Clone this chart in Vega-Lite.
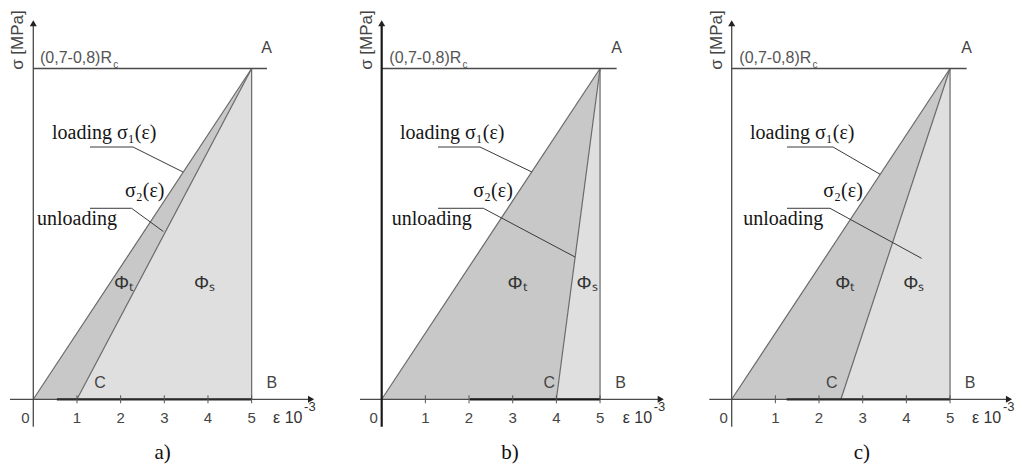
{
  "$schema": "https://vega.github.io/schema/vega-lite/v6.json",
  "background": "white",
  "padding": 0,
  "spacing": 0,
  "bounds": "flush",
  "config": {"view": {"stroke": null}, "text": {"font": "Liberation Sans"}},
  "hconcat": [
    {
      "width": 340, "height": 472,
      "encoding": {
        "x": {"field": "e", "type": "quantitative", "scale": {"domain": [-0.7625, 7.0231], "nice": false, "zero": false}, "axis": null},
        "y": {"field": "s", "type": "quantitative", "scale": {"domain": [-0.2198, 1.2071], "nice": false, "zero": false}, "axis": null}
      },
      "layer": [
        {"data": {"values": [{"e": 0, "s": 0, "s2": 0}, {"e": 1, "s": 0.2, "s2": 0}, {"e": 5, "s": 1, "s2": 1}]}, "mark": {"type": "area", "color": "#c8c8c8"}, "encoding": {"y2": {"field": "s2"}}},
        {"data": {"values": [{"e": 1, "s": 0, "s2": 0}, {"e": 5, "s": 1, "s2": 0}]}, "mark": {"type": "area", "color": "#dfdfdf"}, "encoding": {"y2": {"field": "s2"}}},
        {"data": {"values": [{"e": 0, "s": 0, "e2": 5, "s2": 1}, {"e": 1, "s": 0, "e2": 5, "s2": 1}, {"e": 5, "s": 0, "e2": 5, "s2": 1}]}, "mark": {"type": "rule", "color": "#6a6a6a", "strokeWidth": 1.2}, "encoding": {"x2": {"field": "e2"}, "y2": {"field": "s2"}}},
        {"data": {"values": [{"e": 0, "s": 1, "e2": 5.35, "s2": 1}, {"e": -0.534, "s": 0, "e2": 6.35, "s2": 0}, {"e": 0, "s": -0.083, "e2": 0, "s2": 1.13}]}, "mark": {"type": "rule", "color": "#4a4a4a", "strokeWidth": 1.3}, "encoding": {"x2": {"field": "e2"}, "y2": {"field": "s2"}}},
        {"data": {"values": [{"e": 0.54, "s": 0, "e2": 5, "s2": 0}]}, "mark": {"type": "rule", "color": "#2a2a2a", "strokeWidth": 2.2}, "encoding": {"x2": {"field": "e2"}, "y2": {"field": "s2"}}},
        {"data": {"values": [{"e": 1, "s": -0.012, "e2": 1, "s2": 0.012}, {"e": 2, "s": -0.012, "e2": 2, "s2": 0.012}, {"e": 3, "s": -0.012, "e2": 3, "s2": 0.012}, {"e": 4, "s": -0.012, "e2": 4, "s2": 0.012}, {"e": 5, "s": -0.012, "e2": 5, "s2": 0.012}]}, "mark": {"type": "rule", "color": "#555555", "strokeWidth": 1}, "encoding": {"x2": {"field": "e2"}, "y2": {"field": "s2"}}},
        {"data": {"values": [{"e": 1.298, "s": 0.7627, "e2": 2.283, "s2": 0.7627}, {"e": 2.283, "s": 0.7627, "e2": 3.43, "s2": 0.687}, {"e": 1.298, "s": 0.5774, "e2": 2.25, "s2": 0.5774}, {"e": 2.25, "s": 0.5774, "e2": 2.98, "s2": 0.507}]}, "mark": {"type": "rule", "color": "#3a3a3a", "strokeWidth": 1}, "encoding": {"x2": {"field": "e2"}, "y2": {"field": "s2"}}},
        {"data": {"values": [{"e": 0, "s": 1.137}]}, "mark": {"type": "point", "shape": "triangle-up", "filled": true, "color": "#222222", "size": 50, "opacity": 1}},
        {"data": {"values": [{"e": 6.36, "s": 0}]}, "mark": {"type": "point", "shape": "triangle-right", "filled": true, "color": "#222222", "size": 50, "opacity": 1}},
        {"data": {"values": [{"e": 0.428, "s": 0.787, "t": "loading σ₁(ε)"}, {"e": 2.1, "s": 0.6116, "t": "σ₂(ε)"}, {"e": 0.085, "s": 0.527, "t": "unloading"}]}, "mark": {"type": "text", "font": "Liberation Serif", "fontSize": 20, "color": "#151515", "align": "left", "baseline": "alphabetic"}, "encoding": {"text": {"field": "t"}}},
        {"data": {"values": [{"e": 2.96, "s": -0.1625, "t": "a)"}]}, "mark": {"type": "text", "font": "Liberation Serif", "fontSize": 21, "color": "#111111", "align": "center", "baseline": "middle"}, "encoding": {"text": {"field": "t"}}},
        {"data": {"values": [{"e": 1.527, "s": 0.0478, "t": "C"}, {"e": 5.46, "s": 0.0478, "t": "B"}, {"e": 5.344, "s": 1.061, "t": "A"}]}, "mark": {"type": "text", "fontSize": 16, "color": "#444444", "align": "center", "baseline": "middle"}, "encoding": {"text": {"field": "t"}}},
        {"data": {"values": [{"e": 1.85, "s": 0.3507, "t": "Φₜ"}, {"e": 3.68, "s": 0.3507, "t": "Φₛ"}]}, "mark": {"type": "text", "fontSize": 19, "color": "#333333", "align": "left", "baseline": "middle"}, "encoding": {"text": {"field": "t"}}},
        {"data": {"values": [{"e": 0.153, "s": 1.032, "t": "(0,7-0,8)R"}]}, "mark": {"type": "text", "fontSize": 16, "color": "#555555", "align": "left", "baseline": "middle"}, "encoding": {"text": {"field": "t"}}},
        {"data": {"values": [{"e": 1.83, "s": 1.012, "t": "c"}]}, "mark": {"type": "text", "fontSize": 10, "color": "#555555", "align": "left", "baseline": "middle"}, "encoding": {"text": {"field": "t"}}},
        {"data": {"values": [{"e": -0.183, "s": -0.0574, "t": "0"}, {"e": 1, "s": -0.0574, "t": "1"}, {"e": 2, "s": -0.0574, "t": "2"}, {"e": 3, "s": -0.0574, "t": "3"}, {"e": 4, "s": -0.0574, "t": "4"}, {"e": 5, "s": -0.0574, "t": "5"}]}, "mark": {"type": "text", "fontSize": 15, "color": "#444444", "align": "center", "baseline": "middle"}, "encoding": {"text": {"field": "t"}}},
        {"data": {"values": [{"e": 5.49, "s": -0.0574, "t": "ε 10"}]}, "mark": {"type": "text", "fontSize": 16, "color": "#333333", "align": "left", "baseline": "middle"}, "encoding": {"text": {"field": "t"}}},
        {"data": {"values": [{"e": 6.2, "s": -0.024, "t": "-3"}]}, "mark": {"type": "text", "fontSize": 13, "color": "#333333", "align": "left", "baseline": "middle"}, "encoding": {"text": {"field": "t"}}},
        {"data": {"values": [{"e": -0.343, "s": 1.086, "t": "σ [MPa]"}]}, "mark": {"type": "text", "fontSize": 17, "color": "#444444", "align": "center", "baseline": "middle", "angle": 270}, "encoding": {"text": {"field": "t"}}}
      ]
    },
    {
      "width": 340, "height": 472,
      "encoding": {
        "x": {"field": "e", "type": "quantitative", "scale": {"domain": [-0.9549, 6.8308], "nice": false, "zero": false}, "axis": null},
        "y": {"field": "s", "type": "quantitative", "scale": {"domain": [-0.2198, 1.2071], "nice": false, "zero": false}, "axis": null}
      },
      "layer": [
        {"data": {"values": [{"e": 0, "s": 0, "s2": 0}, {"e": 4, "s": 0.8, "s2": 0}, {"e": 5, "s": 1, "s2": 1}]}, "mark": {"type": "area", "color": "#c8c8c8"}, "encoding": {"y2": {"field": "s2"}}},
        {"data": {"values": [{"e": 4, "s": 0, "s2": 0}, {"e": 5, "s": 1, "s2": 0}]}, "mark": {"type": "area", "color": "#dfdfdf"}, "encoding": {"y2": {"field": "s2"}}},
        {"data": {"values": [{"e": 0, "s": 0, "e2": 5, "s2": 1}, {"e": 4, "s": 0, "e2": 5, "s2": 1}, {"e": 5, "s": 0, "e2": 5, "s2": 1}]}, "mark": {"type": "rule", "color": "#6a6a6a", "strokeWidth": 1.2}, "encoding": {"x2": {"field": "e2"}, "y2": {"field": "s2"}}},
        {"data": {"values": [{"e": 0, "s": 1, "e2": 5.38, "s2": 1}, {"e": -0.497, "s": 0, "e2": 6.38, "s2": 0}]}, "mark": {"type": "rule", "color": "#4a4a4a", "strokeWidth": 1.3}, "encoding": {"x2": {"field": "e2"}, "y2": {"field": "s2"}}},
        {"data": {"values": [{"e": 0, "s": -0.083, "e2": 0, "s2": 1.13}, {"e": 2.02, "s": 0, "e2": 5, "s2": 0}]}, "mark": {"type": "rule", "color": "#1a1a1a", "strokeWidth": 2.2}, "encoding": {"x2": {"field": "e2"}, "y2": {"field": "s2"}}},
        {"data": {"values": [{"e": 1, "s": -0.012, "e2": 1, "s2": 0.012}, {"e": 2, "s": -0.012, "e2": 2, "s2": 0.012}, {"e": 3, "s": -0.012, "e2": 3, "s2": 0.012}, {"e": 4, "s": -0.012, "e2": 4, "s2": 0.012}, {"e": 5, "s": -0.012, "e2": 5, "s2": 0.012}]}, "mark": {"type": "rule", "color": "#555555", "strokeWidth": 1}, "encoding": {"x2": {"field": "e2"}, "y2": {"field": "s2"}}},
        {"data": {"values": [{"e": 1.289, "s": 0.7627, "e2": 2.25, "s2": 0.7627}, {"e": 2.25, "s": 0.7627, "e2": 3.44, "s2": 0.687}, {"e": 1.289, "s": 0.5774, "e2": 2.327, "s2": 0.5774}, {"e": 2.327, "s": 0.5774, "e2": 4.43, "s2": 0.43}]}, "mark": {"type": "rule", "color": "#3a3a3a", "strokeWidth": 1}, "encoding": {"x2": {"field": "e2"}, "y2": {"field": "s2"}}},
        {"data": {"values": [{"e": 0, "s": 1.137}]}, "mark": {"type": "point", "shape": "triangle-up", "filled": true, "color": "#222222", "size": 50, "opacity": 1}},
        {"data": {"values": [{"e": 6.39, "s": 0}]}, "mark": {"type": "point", "shape": "triangle-right", "filled": true, "color": "#222222", "size": 50, "opacity": 1}},
        {"data": {"values": [{"e": 0.419, "s": 0.787, "t": "loading σ₁(ε)"}, {"e": 2.098, "s": 0.6116, "t": "σ₂(ε)"}, {"e": 0.229, "s": 0.527, "t": "unloading"}]}, "mark": {"type": "text", "font": "Liberation Serif", "fontSize": 20, "color": "#151515", "align": "left", "baseline": "alphabetic"}, "encoding": {"text": {"field": "t"}}},
        {"data": {"values": [{"e": 2.94, "s": -0.1625, "t": "b)"}]}, "mark": {"type": "text", "font": "Liberation Serif", "fontSize": 21, "color": "#111111", "align": "center", "baseline": "middle"}, "encoding": {"text": {"field": "t"}}},
        {"data": {"values": [{"e": 3.84, "s": 0.0478, "t": "C"}, {"e": 5.47, "s": 0.0478, "t": "B"}, {"e": 5.38, "s": 1.061, "t": "A"}]}, "mark": {"type": "text", "fontSize": 16, "color": "#444444", "align": "center", "baseline": "middle"}, "encoding": {"text": {"field": "t"}}},
        {"data": {"values": [{"e": 2.88, "s": 0.3507, "t": "Φₜ"}, {"e": 4.46, "s": 0.3507, "t": "Φₛ"}]}, "mark": {"type": "text", "fontSize": 19, "color": "#333333", "align": "left", "baseline": "middle"}, "encoding": {"text": {"field": "t"}}},
        {"data": {"values": [{"e": 0.174, "s": 1.032, "t": "(0,7-0,8)R"}]}, "mark": {"type": "text", "fontSize": 16, "color": "#555555", "align": "left", "baseline": "middle"}, "encoding": {"text": {"field": "t"}}},
        {"data": {"values": [{"e": 1.85, "s": 1.012, "t": "c"}]}, "mark": {"type": "text", "fontSize": 10, "color": "#555555", "align": "left", "baseline": "middle"}, "encoding": {"text": {"field": "t"}}},
        {"data": {"values": [{"e": -0.183, "s": -0.0574, "t": "0"}, {"e": 1, "s": -0.0574, "t": "1"}, {"e": 2, "s": -0.0574, "t": "2"}, {"e": 3, "s": -0.0574, "t": "3"}, {"e": 4, "s": -0.0574, "t": "4"}, {"e": 5, "s": -0.0574, "t": "5"}]}, "mark": {"type": "text", "fontSize": 15, "color": "#444444", "align": "center", "baseline": "middle"}, "encoding": {"text": {"field": "t"}}},
        {"data": {"values": [{"e": 5.52, "s": -0.0574, "t": "ε 10"}]}, "mark": {"type": "text", "fontSize": 16, "color": "#333333", "align": "left", "baseline": "middle"}, "encoding": {"text": {"field": "t"}}},
        {"data": {"values": [{"e": 6.23, "s": -0.024, "t": "-3"}]}, "mark": {"type": "text", "fontSize": 13, "color": "#333333", "align": "left", "baseline": "middle"}, "encoding": {"text": {"field": "t"}}},
        {"data": {"values": [{"e": -0.343, "s": 1.086, "t": "σ [MPa]"}]}, "mark": {"type": "text", "fontSize": 17, "color": "#444444", "align": "center", "baseline": "middle", "angle": 270}, "encoding": {"text": {"field": "t"}}}
      ]
    },
    {
      "width": 342, "height": 472,
      "encoding": {
        "x": {"field": "e", "type": "quantitative", "scale": {"domain": [-1.1839, 6.6476], "nice": false, "zero": false}, "axis": null},
        "y": {"field": "s", "type": "quantitative", "scale": {"domain": [-0.2198, 1.2071], "nice": false, "zero": false}, "axis": null}
      },
      "layer": [
        {"data": {"values": [{"e": 0, "s": 0, "s2": 0}, {"e": 2.5, "s": 0.5, "s2": 0}, {"e": 5, "s": 1, "s2": 1}]}, "mark": {"type": "area", "color": "#c8c8c8"}, "encoding": {"y2": {"field": "s2"}}},
        {"data": {"values": [{"e": 2.5, "s": 0, "s2": 0}, {"e": 5, "s": 1, "s2": 0}]}, "mark": {"type": "area", "color": "#dfdfdf"}, "encoding": {"y2": {"field": "s2"}}},
        {"data": {"values": [{"e": 0, "s": 0, "e2": 5, "s2": 1}, {"e": 2.5, "s": 0, "e2": 5, "s2": 1}, {"e": 5, "s": 0, "e2": 5, "s2": 1}]}, "mark": {"type": "rule", "color": "#6a6a6a", "strokeWidth": 1.2}, "encoding": {"x2": {"field": "e2"}, "y2": {"field": "s2"}}},
        {"data": {"values": [{"e": 0, "s": 1, "e2": 5.38, "s2": 1}, {"e": -0.513, "s": 0, "e2": 6.34, "s2": 0}, {"e": 0, "s": -0.083, "e2": 0, "s2": 1.13}]}, "mark": {"type": "rule", "color": "#4a4a4a", "strokeWidth": 1.3}, "encoding": {"x2": {"field": "e2"}, "y2": {"field": "s2"}}},
        {"data": {"values": [{"e": 1.26, "s": 0, "e2": 5, "s2": 0}]}, "mark": {"type": "rule", "color": "#2a2a2a", "strokeWidth": 2.2}, "encoding": {"x2": {"field": "e2"}, "y2": {"field": "s2"}}},
        {"data": {"values": [{"e": 1, "s": -0.012, "e2": 1, "s2": 0.012}, {"e": 2, "s": -0.012, "e2": 2, "s2": 0.012}, {"e": 3, "s": -0.012, "e2": 3, "s2": 0.012}, {"e": 4, "s": -0.012, "e2": 4, "s2": 0.012}, {"e": 5, "s": -0.012, "e2": 5, "s2": 0.012}]}, "mark": {"type": "rule", "color": "#555555", "strokeWidth": 1}, "encoding": {"x2": {"field": "e2"}, "y2": {"field": "s2"}}},
        {"data": {"values": [{"e": 1.266, "s": 0.7627, "e2": 2.32, "s2": 0.7627}, {"e": 2.32, "s": 0.7627, "e2": 3.4, "s2": 0.68}, {"e": 1.266, "s": 0.5774, "e2": 2.25, "s2": 0.5774}, {"e": 2.25, "s": 0.5774, "e2": 4.35, "s2": 0.426}]}, "mark": {"type": "rule", "color": "#3a3a3a", "strokeWidth": 1}, "encoding": {"x2": {"field": "e2"}, "y2": {"field": "s2"}}},
        {"data": {"values": [{"e": 0, "s": 1.137}]}, "mark": {"type": "point", "shape": "triangle-up", "filled": true, "color": "#222222", "size": 50, "opacity": 1}},
        {"data": {"values": [{"e": 6.35, "s": 0}]}, "mark": {"type": "point", "shape": "triangle-right", "filled": true, "color": "#222222", "size": 50, "opacity": 1}},
        {"data": {"values": [{"e": 0.419, "s": 0.787, "t": "loading σ₁(ε)"}, {"e": 2.098, "s": 0.6116, "t": "σ₂(ε)"}, {"e": 0.266, "s": 0.527, "t": "unloading"}]}, "mark": {"type": "text", "font": "Liberation Serif", "fontSize": 20, "color": "#151515", "align": "left", "baseline": "alphabetic"}, "encoding": {"text": {"field": "t"}}},
        {"data": {"values": [{"e": 2.98, "s": -0.1625, "t": "c)"}]}, "mark": {"type": "text", "font": "Liberation Serif", "fontSize": 21, "color": "#111111", "align": "center", "baseline": "middle"}, "encoding": {"text": {"field": "t"}}},
        {"data": {"values": [{"e": 2.29, "s": 0.0478, "t": "C"}, {"e": 5.457, "s": 0.0478, "t": "B"}, {"e": 5.38, "s": 1.061, "t": "A"}]}, "mark": {"type": "text", "fontSize": 16, "color": "#444444", "align": "center", "baseline": "middle"}, "encoding": {"text": {"field": "t"}}},
        {"data": {"values": [{"e": 2.37, "s": 0.3507, "t": "Φₜ"}, {"e": 3.93, "s": 0.3507, "t": "Φₛ"}]}, "mark": {"type": "text", "fontSize": 19, "color": "#333333", "align": "left", "baseline": "middle"}, "encoding": {"text": {"field": "t"}}},
        {"data": {"values": [{"e": 0.174, "s": 1.032, "t": "(0,7-0,8)R"}]}, "mark": {"type": "text", "fontSize": 16, "color": "#555555", "align": "left", "baseline": "middle"}, "encoding": {"text": {"field": "t"}}},
        {"data": {"values": [{"e": 1.85, "s": 1.012, "t": "c"}]}, "mark": {"type": "text", "fontSize": 10, "color": "#555555", "align": "left", "baseline": "middle"}, "encoding": {"text": {"field": "t"}}},
        {"data": {"values": [{"e": -0.183, "s": -0.0574, "t": "0"}, {"e": 1, "s": -0.0574, "t": "1"}, {"e": 2, "s": -0.0574, "t": "2"}, {"e": 3, "s": -0.0574, "t": "3"}, {"e": 4, "s": -0.0574, "t": "4"}, {"e": 5, "s": -0.0574, "t": "5"}]}, "mark": {"type": "text", "fontSize": 15, "color": "#444444", "align": "center", "baseline": "middle"}, "encoding": {"text": {"field": "t"}}},
        {"data": {"values": [{"e": 5.5, "s": -0.0574, "t": "ε 10"}]}, "mark": {"type": "text", "fontSize": 16, "color": "#333333", "align": "left", "baseline": "middle"}, "encoding": {"text": {"field": "t"}}},
        {"data": {"values": [{"e": 6.21, "s": -0.024, "t": "-3"}]}, "mark": {"type": "text", "fontSize": 13, "color": "#333333", "align": "left", "baseline": "middle"}, "encoding": {"text": {"field": "t"}}},
        {"data": {"values": [{"e": -0.343, "s": 1.086, "t": "σ [MPa]"}]}, "mark": {"type": "text", "fontSize": 17, "color": "#444444", "align": "center", "baseline": "middle", "angle": 270}, "encoding": {"text": {"field": "t"}}}
      ]
    }
  ]
}
